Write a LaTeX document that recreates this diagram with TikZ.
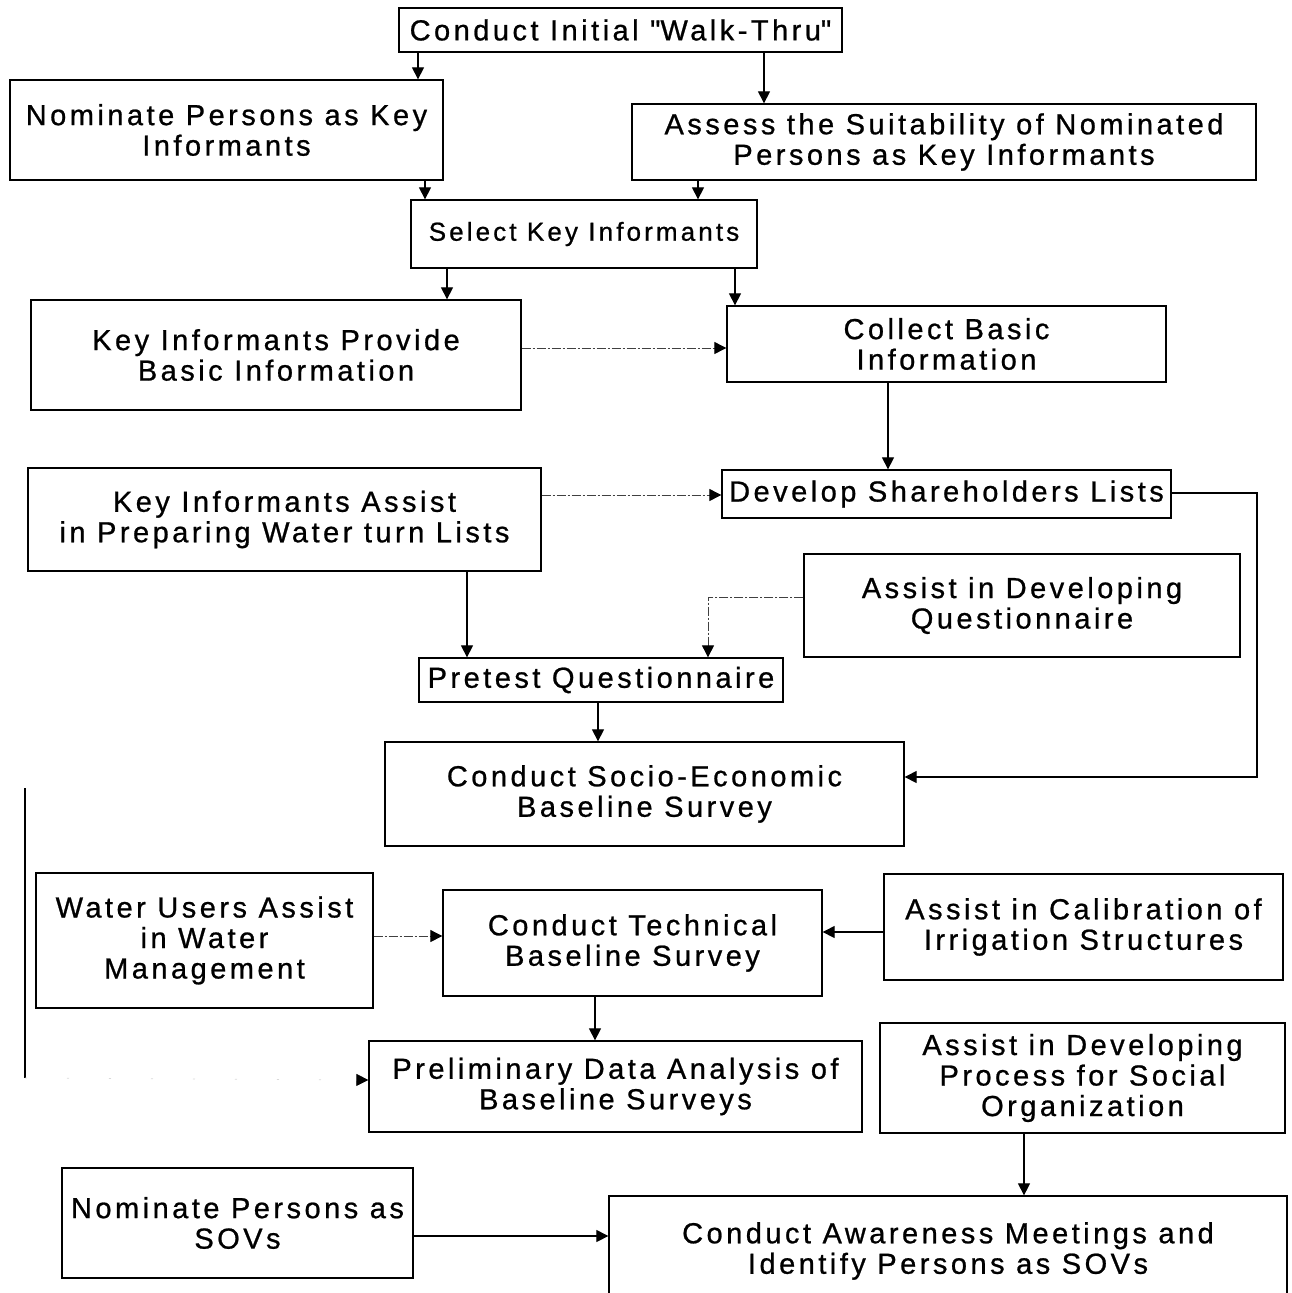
\documentclass[tikz,border=0pt]{standalone}
\usepackage{fontspec}
\setmainfont{Liberation Sans}[LetterSpace=12,FakeBold=0.8]
\usetikzlibrary{arrows.meta}
\begin{document}
\begin{tikzpicture}[x=1pt,y=-1pt,
  box/.style={draw=black, line width=1.3pt, rectangle, inner sep=0pt, align=center,
    font=\fontsize{29}{30.5}\selectfont, text=black},
  arr/.style={draw=black, line width=1.2pt, -{Triangle[length=12pt,width=12pt]}},
  darr/.style={draw=black!75, line width=0.9pt, dash pattern=on 9pt off 2pt on 2pt off 2pt, -{Triangle[length=12pt,width=12pt,black]}},
  ln/.style={draw=black, line width=1.2pt}
]
\useasboundingbox (0,0) rectangle (1292,1293);
\fill[white] (0,0) rectangle (1292,1293);
\clip (0,0) rectangle (1292,1293);

\node[box, minimum width=443, minimum height=44] (walk) at (620.5,30) {Conduct Initial \textquotedbl Walk-Thru\textquotedbl};
\node[box, minimum width=433, minimum height=100] (nomki) at (226.5,130) {Nominate Persons as Key\\Informants};
\node[box, minimum width=624, minimum height=76] (assess) at (944,142) {Assess the Suitability of Nominated\\Persons as Key Informants};
\node[box, minimum width=346, minimum height=68, font=\fontsize{26}{28}\selectfont] (select) at (584,234) {Select Key Informants};
\node[box, minimum width=490, minimum height=110] (kiprov) at (276,355) {Key Informants Provide\\Basic Information};
\node[box, minimum width=439, minimum height=76] (collect) at (946.5,344) {Collect Basic\\Information};
\node[box, minimum width=513, minimum height=103] (kiassist) at (284.5,519.5) {Key Informants Assist\\in Preparing Water turn Lists};
\node[box, minimum width=449, minimum height=48] (develop) at (946.5,494) {Develop Shareholders Lists};
\node[box, minimum width=436, minimum height=103] (assistq) at (1022,605.5) {Assist in Developing\\Questionnaire};
\node[box, minimum width=364, minimum height=44] (pretest) at (601,680) {Pretest Questionnaire};
\node[box, minimum width=519, minimum height=104] (socio) at (644.5,794) {Conduct Socio-Economic\\Baseline Survey};
\node[box, minimum width=337, minimum height=135] (water) at (204.5,940.5) {Water Users Assist\\in Water\\Management};
\node[box, minimum width=379, minimum height=106] (tech) at (632.5,943) {Conduct Technical\\Baseline Survey};
\node[box, minimum width=399, minimum height=106] (calib) at (1083.5,927) {Assist in Calibration of\\Irrigation Structures};
\node[box, minimum width=493, minimum height=91] (prelim) at (615.5,1086.5) {Preliminary Data Analysis of\\Baseline Surveys};
\node[box, minimum width=405, minimum height=110] (process) at (1082.5,1078) {Assist in Developing\\Process for Social\\Organization};
\node[box, minimum width=351, minimum height=110] (nomsov) at (237.5,1223) {Nominate Persons as\\SOVs};
\node[box, minimum width=678, minimum height=110] (aware) at (948,1251) {Conduct Awareness Meetings and\\Identify Persons as SOVs};

\coordinate (ltop) at (25,788);
\coordinate (lbot) at (25,1078);

% connectors
\draw[arr] (walk.south -| 418,0) -- (nomki.north -| 418,0);
\draw[arr] (walk.south -| 764,0) -- (assess.north -| 764,0);
\draw[arr] (nomki.south -| 425,0) -- (select.north -| 425,0);
\draw[arr] (assess.south -| 698,0) -- (select.north -| 698,0);
\draw[arr] (select.south -| 447,0) -- (kiprov.north -| 447,0);
\draw[arr] (select.south -| 735,0) -- (collect.north -| 735,0);
\draw[darr] (kiprov.east |- 0,348) -- (collect.west |- 0,348);
\draw[arr] (collect.south -| 888,0) -- (develop.north -| 888,0);
\draw[darr] (kiassist.east |- 0,495) -- (develop.west |- 0,495);
\draw[arr] (kiassist.south -| 467,0) -- (pretest.north -| 467,0);
\draw[darr] (assistq.west |- 0,597) -- (708,597) -- (pretest.north -| 708,0);
\draw[arr] (pretest.south -| 598,0) -- (socio.north -| 598,0);
\draw[arr] (develop.east |- 0,493) -- (1257,493) -- (1257,777) -- (socio.east |- 0,777);
\draw[darr] (water.east |- 0,936) -- (tech.west |- 0,936);
\draw[arr] (calib.west |- 0,932) -- (tech.east |- 0,932);
\draw[arr] (tech.south -| 595,0) -- (prelim.north -| 595,0);
\draw[ln] (ltop) -- (lbot);
\draw[draw=black!15, line width=0.8pt, dash pattern=on 2pt off 40pt, -{Triangle[length=12pt,width=12pt,black]}] (lbot) -- (prelim.west |- 0,1080);
\draw[arr] (process.south -| 1024,0) -- (aware.north -| 1024,0);
\draw[arr] (nomsov.east |- 0,1236) -- (aware.west |- 0,1236);
\end{tikzpicture}
\end{document}
